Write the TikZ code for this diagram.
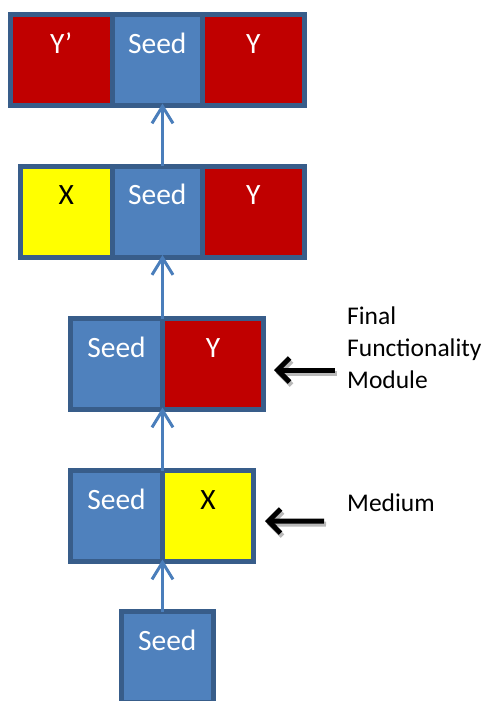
\documentclass[tikz,border=0pt]{standalone}
\usepackage{fontspec}
\setmainfont{Carlito}
\usetikzlibrary{arrows.meta,positioning}

\definecolor{cellborder}{HTML}{385D8A}
\definecolor{seedblue}{HTML}{4F81BD}
\definecolor{moduleRed}{HTML}{C00000}
\definecolor{moduleYellow}{HTML}{FFFF00}
\definecolor{flowblue}{HTML}{4A7EBB}

\begin{document}
\begin{tikzpicture}[
    x=1pt, y=-1pt,
    node distance=0pt,
    cell/.style={rectangle, draw=cellborder, line width=5pt, outer sep=0pt, inner sep=0pt,
        minimum height=91pt, text height=20pt, text depth=34pt, font=\fontsize{29.5}{34}\selectfont},
    seedcell/.style={cell, fill=seedblue, text=white},
    redcell/.style={cell, fill=moduleRed, text=white},
    yellowcell/.style={cell, fill=moduleYellow, text=black},
    flow/.style={draw=flowblue, line width=3pt, shorten >=-2pt, -{Straight Barb[length=17pt,width=21pt]}},
    pointer/.style={draw=black, line width=5pt, -{Straight Barb[length=12pt,width=24pt]}},
    pshadow/.style={pointer, draw=gray!55, transform canvas={shift={(2pt,-3pt)}}},
    sidetext/.style={align=left, inner sep=0pt, font=\fontsize{25.5}{32}\selectfont}
]
\useasboundingbox (0,0) rectangle (490,701);

% Top row
\node[redcell, minimum width=101.5pt] (topL) at (61.25,60) {Y’};
\node[seedcell, minimum width=90.5pt, right=of topL] (topS) {Seed};
\node[redcell, minimum width=101.5pt, right=of topS] (topR) {Y};

% Second row
\node[yellowcell, minimum width=91.5pt] (midX) at (66.25,211.5) {X};
\node[seedcell, minimum width=90.5pt, right=of midX] (midS) {Seed};
\node[redcell, minimum width=101.5pt, right=of midS] (midY) {Y};

% Final functionality module
\node[seedcell, minimum width=92pt] (finS) at (116.5,364) {Seed};
\node[redcell, minimum width=101pt, right=of finS] (finY) {Y};

% Medium
\node[seedcell, minimum width=92pt] (medS) at (116.5,516) {Seed};
\node[yellowcell, minimum width=91pt, right=of medS] (medX) {X};

% Seed alone
\node[seedcell, minimum width=91.5pt] (seed0) at (167.25,657) {Seed};

% Growth arrows
\draw[flow] (seed0.north -| medS.east) -- (medS.south east);
\draw[flow] (medS.north east) -- (finS.south east);
\draw[flow] (finS.north east) -- (midS.south -| finS.east);
\draw[flow] (midS.north -| finS.east) -- (topS.south -| finS.east);

% Side labels
\node[sidetext, anchor=west] (final) at (347,348) {Final\\Functionality\\Module};
\node[sidetext, anchor=base west] (medium) at (347,511) {Medium};

\draw[pshadow] ([xshift=-12pt,yshift=-22pt]final.west) -- ([xshift=10.5pt,yshift=-6pt]finY.east);
\draw[pointer] ([xshift=-12pt,yshift=-22pt]final.west) -- ([xshift=10.5pt,yshift=-6pt]finY.east);
\draw[pshadow] ([xshift=-23pt,yshift=-19pt]medium.west) -- ([xshift=11.5pt,yshift=-5pt]medX.east);
\draw[pointer] ([xshift=-23pt,yshift=-19pt]medium.west) -- ([xshift=11.5pt,yshift=-5pt]medX.east);

\end{tikzpicture}
\end{document}
